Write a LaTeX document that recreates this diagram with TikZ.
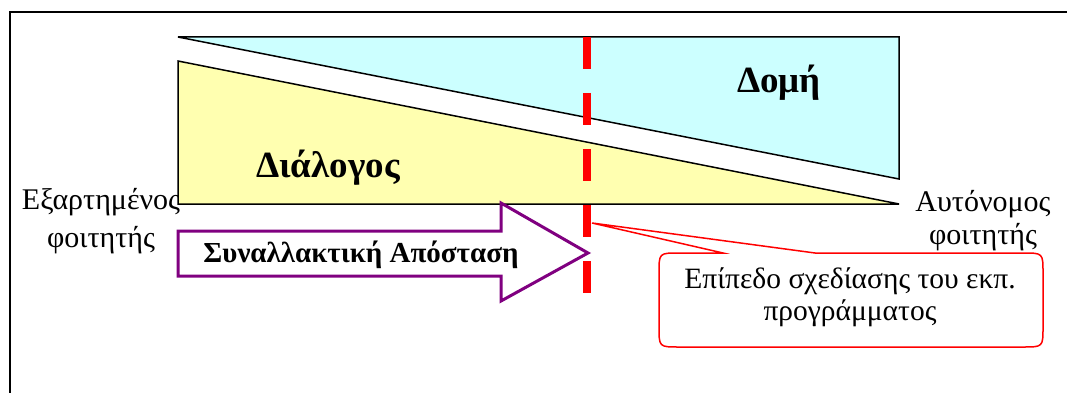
\documentclass[tikz,border=0pt]{standalone}
\usepackage{fontspec}
\setmainfont{Liberation Serif}
\begin{document}
\begin{tikzpicture}[x=1pt,y=-1pt,
  tri/.style={draw=black,line width=1.5pt,line join=miter},
  bigbold/.style={font=\fontsize{37}{40}\selectfont\bfseries,anchor=base,inner sep=0pt},
  dashline/.style={draw=red,line width=8pt,dash pattern=on 32pt off 24pt},
  arrowshape/.style={draw=arrowpurple,fill=white,line width=3pt,line join=miter},
  callout/.style={draw=red,fill=white,line width=1.5pt,line join=miter}
]
\definecolor{arrowpurple}{RGB}{128,0,128}
\definecolor{cyanfill}{RGB}{204,255,255}
\definecolor{yellowfill}{RGB}{255,255,176}
\useasboundingbox (0,0) rectangle (1067,393);
% frame
\draw[line width=2pt] (10,393) -- (10,12) -- (1067,12);
% triangles
\draw[tri,fill=cyanfill] (178,37) -- (899,37) -- (899,179) -- cycle;
\draw[tri,fill=yellowfill] (178,61) -- (178,204) -- (899,204) -- cycle;
% dashed line
\coordinate (dtop) at (587,37);
\coordinate (dbot) at (587,293);
\draw[dashline] (dtop) -- (dbot);
% arrow
\draw[arrowshape] (178,231) -- (501,231) -- (501,203) -- (588,253) -- (501,301) -- (501,276) -- (178,276) -- cycle;
% callout
\coordinate (tip) at (592,223);
\draw[callout] (723,253) -- (tip) -- (815,253) -- (1023,253)
  .. controls (1043,253) .. (1043,273) -- (1043,327)
  .. controls (1043,347) .. (1023,347) -- (679,347)
  .. controls (659,347) .. (659,327) -- (659,273)
  .. controls (659,253) .. (679,253) -- cycle;
% texts
\node[bigbold] (domi) at (779,93) {Δομή};
\node[bigbold] (dialogos) at (328,177) {Διάλογος};
\node[font=\fontsize{29}{30}\selectfont\bfseries,anchor=base,inner sep=0pt] (synal) at (361,262) {Συναλλακτική Απόσταση};
\node[font=\fontsize{30}{38}\selectfont,align=center,inner sep=0pt,anchor=base] (left) at (101,247) {Εξαρτημένος\\φοιτητής};
\node[font=\fontsize{30}{33}\selectfont,align=center,inner sep=0pt,anchor=base] (right) at (983,244) {Αυτόνομος\\φοιτητής};
\node[font=\fontsize{29.5}{32}\selectfont,align=center,inner sep=0pt,anchor=base] (call) at (850,320) {Επίπεδο σχεδίασης του εκπ.\\προγράμματος};
\end{tikzpicture}
\end{document}
